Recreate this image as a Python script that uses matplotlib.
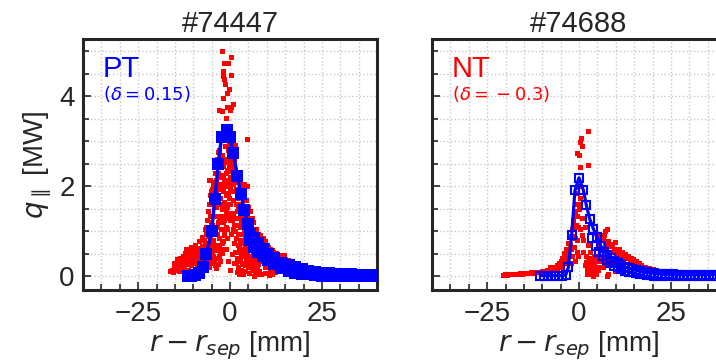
import matplotlib
matplotlib.use("Agg")
import numpy as np
import matplotlib.pyplot as plt
from matplotlib.ticker import MultipleLocator

# ---- data ----
titles = ["#74447", "#74688"]
labels = ["PT", "NT"]
deltas = [r"$(\delta = 0.15)$", r"$(\delta = {}-0.3)$"]
label_colors = ["blue", "red"]

# shot 74447 (PT): measured q_par (red scatter)
red_pt = [
    (-16.3, .12), (-15.9, .15), (-15.6, .10), (-15.3, .21), (-15.0, .14), (-14.7, .27), (-14.5, .18),
    (-14.2, .33), (-14.0, .12), (-13.8, .24), (-13.6, .41), (-13.4, .29), (-13.1, .17), (-12.9, .46),
    (-12.7, .35), (-12.5, .22), (-12.3, .52), (-12.1, .39), (-11.9, .62), (-11.7, .28), (-11.5, .47),
    (-11.3, .15), (-11.1, .56), (-10.9, .36), (-10.7, .66), (-10.5, .25), (-10.3, .50), (-10.1, .60),
    (-9.9, .40), (-9.7, .31), (-9.5, .70), (-9.3, .55), (-9.1, .45), (-8.9, .22), (-8.7, .63),
    (-8.5, .36), (-8.3, .78), (-8.1, .52), (-7.9, .30), (-7.7, .68), (-7.5, .88), (-7.3, .42),
    (-7.1, .60), (-6.9, 1.05), (-6.7, .75), (-6.5, .35), (-6.3, 1.25), (-6.1, .90),
    (-15.2, .30), (-14.4, .38), (-13.9, .20), (-13.3, .36), (-12.8, .28), (-12.2, .44), (-11.6, .52),
    (-11.0, .43), (-10.4, .38), (-9.8, .58), (-9.2, .35), (-8.6, .48), (-8.0, .60), (-7.4, .52),
    (-7.0, .80), (-6.4, .95),
    (-5.9, .50), (-5.8, 1.6), (-5.6, 2.15), (-5.5, .85), (-5.4, 1.35), (-5.2, .30), (-5.1, 1.9),
    (-4.9, .65), (-4.8, 1.15), (-4.6, 2.05), (-4.5, .45), (-4.4, 1.55), (-4.3, .95), (-4.1, 2.3),
    (-4.0, .25), (-3.9, 1.35), (-3.8, .70), (-3.7, 1.85), (-3.6, 2.6), (-3.5, 1.10), (-3.4, .40),
    (-3.3, 1.60), (-3.2, 2.05), (-3.1, .85), (-3.0, 2.8), (-2.9, 1.30), (-2.8, .55), (-2.7, 2.45),
    (-2.6, 1.75), (-2.5, 1.05), (-2.4, 2.2), (-2.3, .75), (-2.2, 1.5), (-2.1, 2.7), (-2.0, 1.9),
    (-1.9, 1.2), (-1.8, 2.45), (-1.7, .95), (-1.6, 1.65), (-1.5, 2.1), (-1.4, 1.35), (-1.3, 2.9),
    (-1.2, 1.8), (-1.1, 1.1), (-1.0, 2.3), (-0.9, 1.55), (-0.8, 2.6), (-0.7, .85), (-0.6, 2.0),
    (-0.5, 1.4), (-0.4, 2.35), (-0.3, 1.75), (-0.2, 2.95), (-0.1, 1.25),
    (-5.7, .22), (-5.3, .72), (-5.0, 1.05), (-4.7, .38), (-4.2, .58), (-3.9, .18), (-3.5, .62),
    (-3.2, .28), (-2.9, .45), (-2.6, .35), (-2.3, .52), (-2.0, .62), (-1.8, .78), (-1.5, .92),
    (-1.2, .60), (-1.0, 1.3), (-0.8, 1.05), (-4.6, 1.7), (-3.8, 2.15), (-3.3, 1.95), (-2.4, 1.95),
    (-2.0, 2.25), (-1.6, 2.0), (-1.2, 2.15), (-0.6, 1.85),
    (-6.8, .55), (-6.6, 1.1), (-6.2, .65), (-6.0, 1.45), (-5.8, .95), (-5.6, .40), (-5.4, 1.8),
    (-5.2, 1.2), (-5.0, .55), (-4.8, 1.95), (-4.6, .80), (-4.4, .30), (-4.2, 2.1), (-4.0, 1.0),
    (-3.8, 1.55), (-3.6, .95), (-3.4, 2.3), (-3.2, 1.2), (-3.0, .70), (-2.8, 2.05), (-2.6, .60),
    (-2.4, 1.35), (-2.2, 2.5), (-2.0, 1.05), (-1.8, 1.6), (-1.6, 1.25), (-1.4, 2.55), (-1.2, 1.45),
    (-1.0, 1.85), (-0.8, 1.4), (-0.6, 2.55), (-0.4, 1.6), (-0.2, 2.1), (0.0, 1.95), (-0.3, 2.45),
    (-1.1, 2.6), (-2.6, 2.2), (-3.9, 2.45),
    (-0.5, .35), (0.2, .95), (0.5, .50), (0.1, .15), (0.8, 1.05),
    (0.0, 1.6), (0.1, 2.2), (0.2, 1.35), (0.3, 2.5), (0.4, 1.9), (0.5, 1.25), (0.6, 2.35),
    (0.7, 1.7), (0.8, 2.05), (0.9, 1.4), (1.0, 2.6), (1.1, 1.15), (1.2, 1.9), (1.3, 2.25),
    (1.4, 1.0), (1.5, 1.6),
    (1.6, 2.1), (1.7, .85), (1.8, 1.45), (1.9, .40), (2.0, 1.75), (2.1, .95), (2.2, 2.3), (2.3, .22),
    (2.4, 1.3), (2.5, .65), (2.6, 1.95), (2.7, .35), (2.8, 1.1), (2.9, 1.6), (3.0, .15), (3.1, .80),
    (3.2, 2.0), (3.3, 1.35), (3.4, .50), (3.5, 1.75), (3.6, .28), (3.7, 1.05), (3.8, 2.05),
    (3.9, .62), (4.0, 1.45), (4.1, .12), (4.2, .90), (4.3, 1.7), (4.4, .40), (4.5, 1.25), (4.6, 2.0),
    (4.7, .70), (4.8, .20), (4.9, 1.55), (5.0, 1.0), (5.1, .45), (5.2, 1.3), (5.3, .08), (5.4, .80),
    (5.5, 1.45), (5.6, .32), (5.7, 1.1), (5.8, .60), (5.9, 1.3), (6.0, .15), (6.1, .95), (6.2, .45),
    (6.3, 1.2), (6.4, .70), (6.5, .25), (6.6, 1.0), (6.7, .55), (6.8, .10), (6.9, .85), (7.0, .38),
    (7.1, 1.05), (7.2, .65), (7.3, .18), (7.4, .90), (7.5, .48), (7.6, .28), (7.7, .95), (7.8, .60),
    (7.9, .12), (8.0, .80),
    (1.9, 1.15), (2.2, 1.55), (2.6, .95), (3.0, 1.25), (3.3, .75), (3.7, 1.5), (4.1, 1.2), (4.4, .85),
    (2.0, .55), (2.4, .05), (2.9, .45), (3.5, .95), (3.9, .30), (4.6, 1.45), (5.2, .60), (1.6, .30),
    (1.3, .55), (1.0, .30),
    (1.5, 1.95), (1.7, 1.3), (1.9, 2.25), (2.1, .70), (2.3, 1.9), (2.5, 1.15), (2.7, .80), (2.9, 2.05),
    (3.1, 1.5), (3.3, .30), (3.5, 1.2), (3.7, .45), (3.9, 1.85), (4.1, .65), (4.3, 1.05), (4.5, .55),
    (4.7, 1.3), (4.9, .35), (5.1, .85), (5.3, 1.15), (5.5, .25), (5.7, .70), (5.9, .40), (6.1, .20),
    (6.3, .55), (6.5, .85), (6.7, .30), (6.9, .60), (7.1, .20), (7.3, .75), (7.5, .35), (7.7, .45),
    (7.9, .65), (1.1, .75), (1.8, .10), (2.2, .40), (2.7, 1.45), (3.2, .60), (3.6, .05), (4.0, .25),
    (1.4, 2.91), (-3.2, 2.76), (-0.5, 2.8), (0.0, 2.58), (-2.9, 2.43), (-5.5, 2.13), (-0.9, 2.36),
    (0.5, 2.39), (2.7, 2.28), (3.6, 2.02), (4.6, 3.04),
    (-2.1, 5.0), (0.2, 4.86), (-1.6, 4.74), (-0.5, 4.73), (-1.8, 4.56), (0.4, 4.48), (-2.0, 4.44),
    (-1.6, 4.39), (-1.4, 4.28), (-0.3, 4.15), (-0.7, 4.07), (-1.8, 3.96), (0.9, 3.82), (-0.9, 3.76),
    (0.4, 3.76), (-2.9, 3.70), (-2.3, 3.67), (0.0, 3.69), (-1.1, 3.51),
    (8.2, .92), (8.4, .55), (8.6, .75), (8.8, .35), (9.0, .85), (9.2, .62), (9.4, .20), (9.6, .78),
    (9.8, .48), (10.0, .70), (10.2, .30), (10.4, .65), (10.6, .55), (10.8, .12), (11.0, .62),
    (11.2, .42), (11.4, .58), (11.6, .25), (11.8, .55), (12.0, .48), (12.2, .10), (12.4, .52),
    (12.6, .35), (12.8, .50), (13.0, .44), (13.2, .20), (13.4, .48), (13.6, .38), (13.8, .45),
    (14.0, .30), (14.3, .42), (14.6, .36), (14.8, .47), (15.1, .38), (15.4, .32), (15.7, .36),
    (16.0, .30), (16.3, .33), (16.6, .26), (16.9, .30), (17.2, .27), (17.5, .24), (17.8, .27),
    (18.1, .22), (18.4, .25), (18.7, .20), (19.0, .23), (19.3, .19), (19.6, .21), (20.0, .17),
    (20.4, .19), (20.8, .16), (21.2, .17), (21.6, .14), (22.0, .15), (22.4, .12),
    (8.3, .70), (8.9, .62), (9.5, .68), (10.1, .55), (10.7, .62), (11.3, .50), (11.9, .46),
    (12.5, .42), (13.1, .38), (13.7, .41), (14.5, .33), (15.5, .30), (16.5, .28), (17.4, .22),
    (18.3, .20), (19.2, .17), (20.2, .15), (21.0, .14), (21.9, .12),
    (8.5, .05), (9.5, .08), (10.5, .03), (11.5, .06), (6.5, .02), (7.5, .06),
]

# shot 74447: modelled profile (blue, filled squares)
blue_pt_x = [-11.5, -10.5, -9.5, -8.5, -7.3, -6.4, -5.0, -4.1, -3.2, -2.3, -0.9, 0.0, 0.9, 2.0,
             2.9, 3.9, 4.8, 5.5, 6.6, 7.7, 9.0, 10.4, 12.0, 14.0, 16.0, 17.7, 19.5, 21.3, 23.0,
             25.0, 27.0, 29.0, 31.0, 33.0, 35.0, 37.0, 39.0, 41.0]
blue_pt_y = [0.0, 0.01, 0.03, 0.07, 0.2, 0.5, 1.02, 1.73, 2.5, 3.1, 3.24, 3.1, 2.73, 2.24,
             1.84, 1.48, 1.17, 0.95, 0.85, 0.75, 0.62, 0.5, 0.4, 0.31, 0.25, 0.2, 0.16, 0.12, 0.1,
             0.08, 0.07, 0.06, 0.05, 0.05, 0.04, 0.04, 0.04, 0.04]
blue_pt_low_x = [5.5, 6.6, 7.7, 9.0, 10.4, 12.0, 14.0, 16.0, 17.7, 19.5, 21.3, 23.0, 25.0, 27.0,
                 29.0, 31.0, 33.0, 35.0, 37.0, 39.0, 41.0]
blue_pt_low_y = [0.8, 0.65, 0.55, 0.45, 0.36, 0.27, 0.18, 0.12, 0.08, 0.06, 0.05, 0.03, 0.02,
                 0.01, 0.01, 0.0, 0.0, 0.0, 0.0, 0.0, 0.0]

# shot 74688 (NT): measured q_par (red scatter)
red_nt = [
    (-20.6, .04), (-20.1, .05), (-19.6, .04), (-19.1, .05), (-18.6, .05), (-18.1, .06), (-17.6, .05),
    (-17.1, .06), (-16.6, .06), (-16.1, .07), (-15.6, .06), (-15.1, .07), (-14.6, .08), (-14.1, .07),
    (-13.6, .08), (-13.1, .09), (-12.6, .08), (-12.1, .10), (-11.6, .09), (-11.1, .11), (-10.6, .10),
    (-10.1, .12), (-9.6, .11), (-9.1, .13), (-8.6, .14), (-8.1, .13), (-7.6, .16), (-7.1, .15),
    (-6.6, .19), (-6.1, .17), (-5.6, .22), (-5.1, .20), (-4.8, .28), (-4.5, .24), (-4.2, .35),
    (-3.9, .30), (-3.6, .45), (-3.3, .38), (-3.0, .55), (-2.7, .48), (-2.4, .70), (-2.1, .62),
    (-1.8, .90), (-1.5, 1.10), (-1.2, 1.35), (-0.9, 1.60), (-0.6, 1.85), (-0.4, 2.0),
    (-8.0, .20), (-7.0, .22), (-6.0, .25), (-5.5, .30), (-5.0, .35), (-4.5, .40), (-4.0, .52),
    (-3.5, .62), (-3.0, .75), (-2.5, .90), (-2.0, 1.05), (-1.5, 1.25), (-1.0, 1.45),
    (-2.2, .30), (-1.8, .45), (-1.4, .65), (-1.1, .85), (-0.8, 1.15), (-0.5, 1.35), (-0.3, 1.6),
    (-0.6, .55), (-1.0, .35),
    (2.5, 3.23), (0.5, 3.08), (0.3, 2.98), (0.7, 2.89), (-0.6, 2.75), (-0.1, 2.69), (2.5, 2.47),
    (0.3, 2.43), (-0.5, 1.98), (0.2, 1.75), (0.0, 1.5), (-0.2, 1.1), (0.7, 0.91), (-0.5, 0.8),
    (1.2, 0.8), (2.5, 0.69), (3.0, 0.54), (1.2, 0.54), (1.9, 0.32), (3.0, 0.28), (3.9, 0.21),
    (2.1, 0.06), (4.5, 0.1), (3.9, 0.02), (5.7, 0.21), (8.0, 0.06), (7.5, 1.06), (6.9, 0.91),
    (7.1, 1.02), (0.9, 1.3), (0.4, 1.05), (1.5, 1.1), (-0.2, 0.45),
    (2.0, .45), (2.4, .35), (2.8, .25), (3.2, .15), (3.6, .08), (4.0, .12), (4.4, .22), (4.8, .35),
    (2.2, .15), (2.6, .05), (3.0, .40), (3.4, .30), (3.8, .38), (4.2, .45), (4.6, .05), (3.5, .22),
    (2.9, .12), (4.1, .30), (1.6, .25), (5.2, .15),
    (5.0, .95), (5.4, .70), (5.8, .85), (6.2, .60), (6.6, .80), (7.0, .72), (7.4, .62), (7.8, .78),
    (8.2, .68), (8.6, .55), (9.0, .72), (9.4, .62), (9.8, .76), (10.2, .58), (10.6, .52), (11.0, .62),
    (11.4, .48), (11.8, .55), (12.2, .44), (12.6, .50), (13.0, .40), (13.4, .45), (13.8, .36),
    (14.2, .40), (14.8, .39), (15.0, .32), (15.4, .35), (15.8, .28), (16.2, .30), (16.6, .24),
    (17.0, .26), (17.5, .21), (18.0, .22), (18.5, .18), (19.0, .19), (19.5, .15), (20.0, .16),
    (20.6, .13), (21.2, .13), (21.8, .11), (22.4, .10), (23.0, .08),
    (6.4, .21), (7.5, .02), (9.8, .13), (5.5, .45), (6.0, .35), (6.8, .40), (7.2, .30), (8.0, .42),
    (8.5, .30),
]

# shot 74688: modelled profile (blue, open squares)
blue_nt_x = [-10.5, -9.5, -8.5, -7.5, -6.5, -5.5, -4.5, -3.6, -2.9, -2.0, -1.1, 0.0, 1.2, 2.0,
             2.9, 3.9, 4.9, 5.9, 6.8, 7.7, 8.6, 9.5, 10.5, 11.5, 12.5, 13.5, 14.5, 15.5, 16.5,
             17.5, 18.5, 19.5, 20.5, 21.5, 22.5, 23.5, 24.5, 25.5, 26.5, 27.5, 28.5, 29.5, 30.5,
             31.5, 32.5, 33.5, 34.5, 35.5, 36.5, 37.5, 38.5, 39.5, 40.5]
blue_nt_y = [0.02, 0.02, 0.02, 0.02, 0.02, 0.02, 0.02, 0.04, 0.2, 0.91, 1.91, 2.19, 1.91, 1.58,
             1.28, 1.06, 0.87, 0.68, 0.55, 0.47, 0.40, 0.34, 0.29, 0.25, 0.21, 0.18, 0.16, 0.14,
             0.12, 0.10, 0.09, 0.08, 0.07, 0.06, 0.06, 0.05, 0.05, 0.05, 0.04, 0.04, 0.04, 0.04,
             0.04, 0.04, 0.04, 0.04, 0.04, 0.04, 0.04, 0.04, 0.04, 0.04, 0.04]
blue_nt_low_x = [3.5, 4.5, 5.5, 6.5, 7.5, 8.5, 9.5, 10.5, 11.5, 12.5, 13.5, 14.5, 15.5, 16.5,
                 17.5, 18.5, 19.5, 20.5, 21.5, 22.5, 23.5, 24.5, 25.5, 26.5, 27.5, 28.5, 29.5,
                 30.5, 31.5, 32.5, 33.5, 34.5, 35.5, 36.5, 37.5, 38.5, 39.5, 40.5]
blue_nt_low_y = [0.85, 0.68, 0.55, 0.45, 0.36, 0.29, 0.24, 0.20, 0.16, 0.13, 0.11, 0.09, 0.07,
                 0.06, 0.05, 0.04, 0.03, 0.02, 0.02, 0.01, 0.01, 0.01, 0.01, 0.0, 0.0, 0.0, 0.0,
                 0.0, 0.0, 0.0, 0.0, 0.0, 0.0, 0.0, 0.0, 0.0, 0.0, 0.0]

# ---- figure ----
plt.rcParams['font.family'] = ['Liberation Sans', 'DejaVu Sans']
plt.rcParams['mathtext.fontset'] = 'dejavusans'
dark = '#262626'

W, H = 716, 363
fig = plt.figure(figsize=(W / 100, H / 100), dpi=100)
ax1 = fig.add_axes([83 / W, 73 / H, 294 / W, 251 / H])
ax2 = fig.add_axes([432 / W, 73 / H, 294 / W, 251 / H])

panels = [
    (ax1, red_pt, blue_pt_x, blue_pt_y, blue_pt_low_x, blue_pt_low_y, 'blue'),
    (ax2, red_nt, blue_nt_x, blue_nt_y, blue_nt_low_x, blue_nt_low_y, 'none'),
]

for i, (ax, red, bx, by, blx, bly, face) in enumerate(panels):
    rx, ry = zip(*red)
    ax.plot(rx, ry, 's', color='red', ms=3.6, mew=0, zorder=2)
    if face == 'none':
        ax.plot(blx, bly, 's', color='blue', mfc='none', mew=1.5, ms=6, zorder=3)
        ax.plot(bx, by, '-s', color='blue', mfc='none', mew=1.5, ms=6, lw=2.3, zorder=4)
    else:
        ax.plot(blx, bly, 's', color='blue', ms=8.5, mew=0, zorder=3)
        ax.plot(bx, by, '-s', color='blue', ms=8.5, mew=0, lw=2.5, zorder=4)

    ax.set_xlim(-40, 40)
    ax.set_ylim(-0.3, 5.27)
    ax.xaxis.set_major_locator(MultipleLocator(25))
    ax.xaxis.set_minor_locator(MultipleLocator(5))
    ax.yaxis.set_major_locator(MultipleLocator(2))
    ax.yaxis.set_minor_locator(MultipleLocator(0.5))
    ax.set_axisbelow(True)
    ax.grid(which='both', ls=':', color='#c8c8c8', lw=1.0)
    ax.tick_params(which='both', direction='in', colors=dark, labelsize=20, width=1.2)
    ax.tick_params(which='major', length=6)
    ax.tick_params(axis='x', which='major', pad=8)
    ax.tick_params(axis='y', which='major', pad=6)
    ax.tick_params(which='minor', length=4)
    for s in ax.spines.values():
        s.set_linewidth(2.2)
        s.set_color(dark)

    ax.set_title(titles[i], fontsize=21, color=dark, pad=5)
    ax.set_xlabel(r'$r - r_{sep}$ [mm]', fontsize=20, color=dark, labelpad=2)
    ax.text(0.068, 0.85, labels[i], transform=ax.transAxes, fontsize=21,
            color=label_colors[i], va='baseline')
    ax.text(0.068, 0.755, deltas[i], transform=ax.transAxes, fontsize=13,
            color=label_colors[i], va='baseline')

ax1.set_ylabel(r'$q_{\parallel}$ [MW]', fontsize=20, color=dark, labelpad=4)
ax2.tick_params(labelleft=False)

fig.savefig('out.png', dpi=100)
